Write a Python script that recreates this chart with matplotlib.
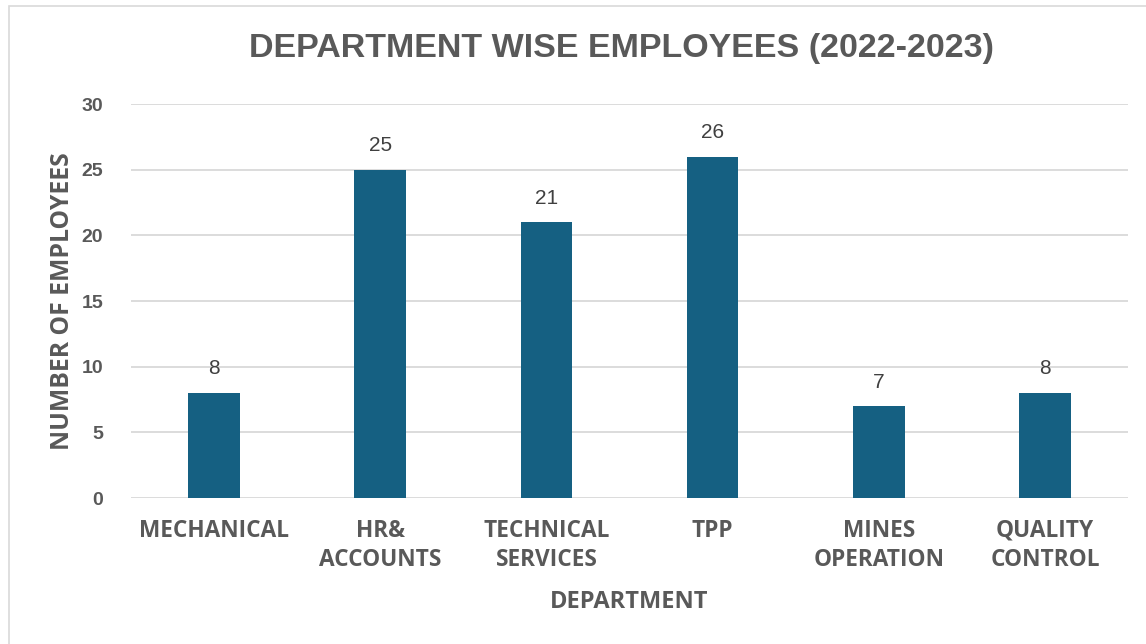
import matplotlib.pyplot as plt
from matplotlib.patches import Rectangle

# Department headcount data
departments = ["MECHANICAL", "HR&\nACCOUNTS", "TECHNICAL\nSERVICES", "TPP",
               "MINES\nOPERATION", "QUALITY\nCONTROL"]
employees = [8, 25, 21, 26, 7, 8]
yticks = [0, 5, 10, 15, 20, 25, 30]

plt.rcParams['font.family'] = ['Liberation Sans', 'DejaVu Sans']
label_font = ['Open Sans', 'DejaVu Sans']

fig = plt.figure(figsize=(11.46, 6.44), dpi=100)
ax = fig.add_axes([0.1143, 0.2267, 0.87, 0.6118])

# outer chart border
fig.patches.append(Rectangle((9 / 1146, -0.01), 1.0, 1 - 6 / 644 + 0.01,
                             transform=fig.transFigure, fill=False,
                             edgecolor='#d9d9d9', linewidth=1.2))

x = range(len(departments))
bars = ax.bar(x, employees, width=0.31, color='#156082', zorder=3)
for b, v in zip(bars, employees):
    ax.text(b.get_x() + b.get_width() / 2, v + 1.1, str(v), ha='center',
            va='bottom', fontsize=15, color='#404040')

ax.set_xlim(-0.5, len(departments) - 0.5)
ax.set_ylim(0, 30)
ax.set_yticks(yticks)
ax.set_yticklabels([str(t) for t in yticks], fontsize=14, fontweight='bold',
                   color='#595959')
ax.set_xticks(list(x))
ax.set_xticklabels(departments, fontsize=16.3, fontweight='bold', color='#595959',
                   linespacing=1.3, family=label_font)
ax.tick_params(axis='both', length=0)
ax.tick_params(axis='x', pad=15)
ax.tick_params(axis='y', pad=20)
ax.grid(axis='y', color='#d9d9d9', linewidth=1.3, zorder=0)
for s in ax.spines.values():
    s.set_visible(False)

ax.set_xlabel('DEPARTMENT', fontsize=17, fontweight='bold', color='#595959',
              labelpad=13, family=label_font)
ax.set_ylabel('NUMBER OF EMPLOYEES', fontsize=17.8, fontweight='bold',
              color='#595959', labelpad=5, family=label_font)
fig.text(0.542, 0.925, 'DEPARTMENT WISE EMPLOYEES (2022-2023)', ha='center',
         va='center', fontsize=24.5, fontweight='bold', color='#595959')

fig.savefig('out.png', dpi=100)
